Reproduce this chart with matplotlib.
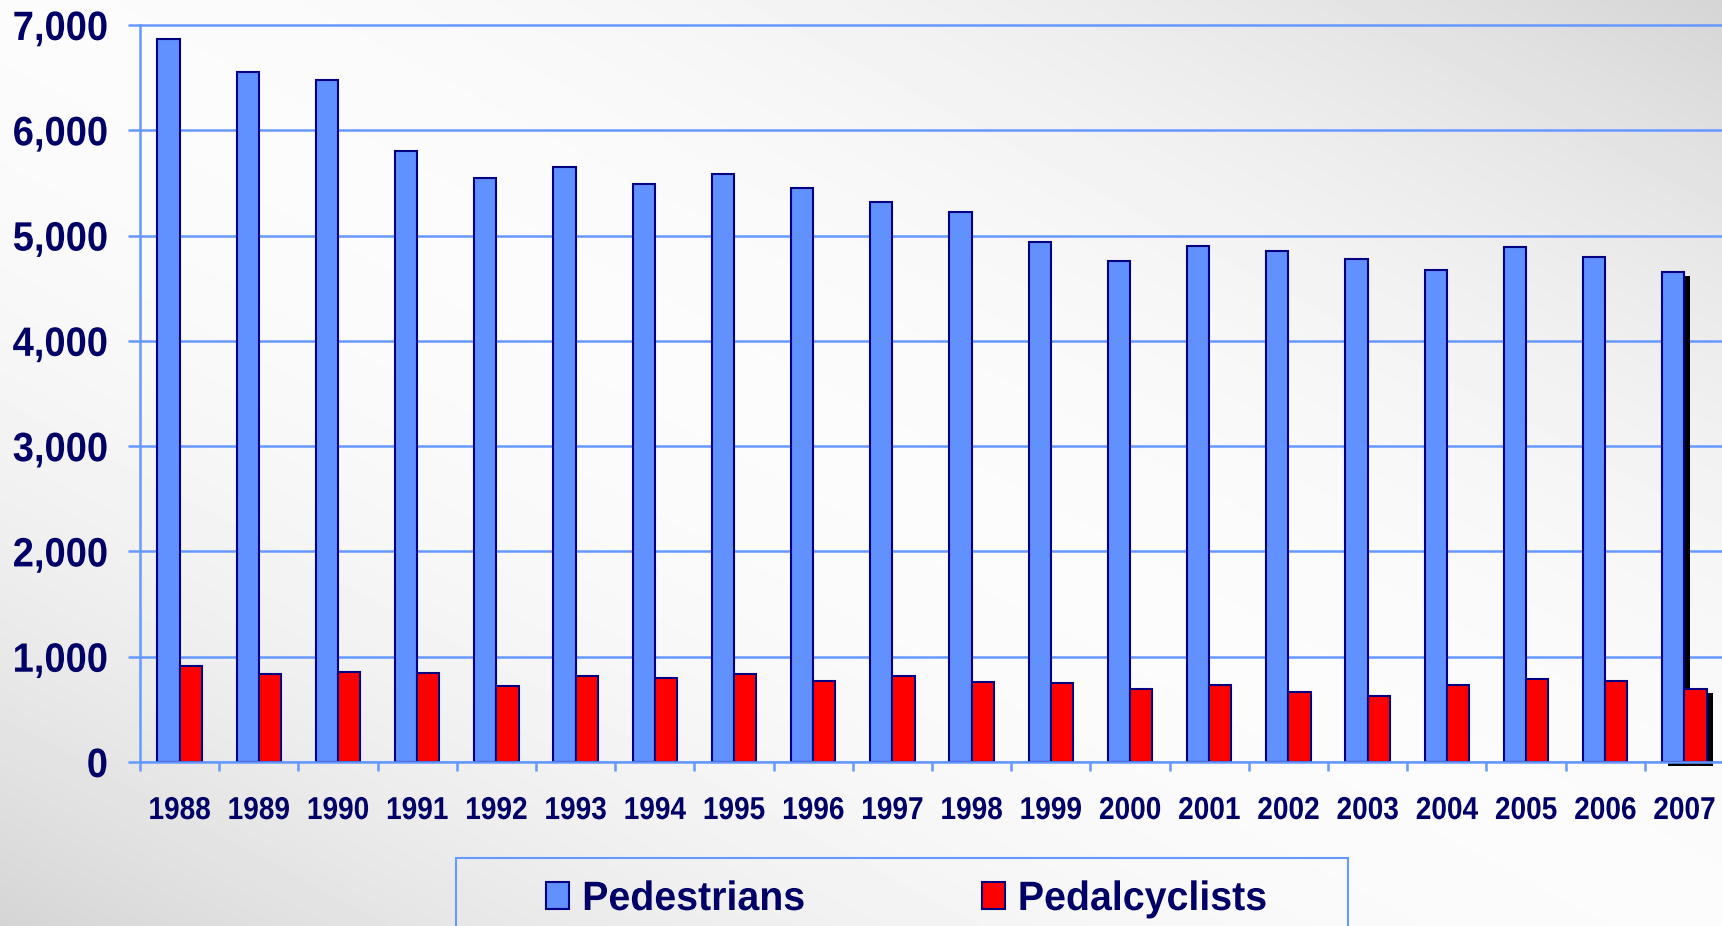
import matplotlib.pyplot as plt
import numpy as np
from matplotlib import patheffects
from matplotlib.patches import Rectangle, Patch
from matplotlib.transforms import Affine2D

years = ['1988', '1989', '1990', '1991', '1992', '1993', '1994', '1995', '1996', '1997',
         '1998', '1999', '2000', '2001', '2002', '2003', '2004', '2005', '2006', '2007']
pedestrians = [6870, 6556, 6482, 5801, 5549, 5649, 5489, 5584, 5449, 5321,
               5228, 4939, 4763, 4901, 4851, 4774, 4675, 4892, 4795, 4654]
cyclists = [911, 832, 859, 843, 723, 816, 802, 833, 765, 814,
            760, 754, 693, 732, 665, 629, 727, 786, 772, 698]

plt.rcParams['font.family'] = 'Liberation Sans'
plt.rcParams['font.weight'] = 'bold'

navy = '#000066'
grid_blue = '#6699FF'
ped_col = '#6190FF'
cyc_col = '#FF0000'
edge = '#000080'


# the labels in the original are a bit condensed, squeeze glyphs horizontally
class Squeeze(patheffects.AbstractPathEffect):
    def __init__(self, sx, anchor='center'):
        super().__init__()
        self.sx = sx
        self.anchor = anchor

    def draw_path(self, renderer, gc, tpath, affine, rgbFace=None):
        ext = tpath.get_extents(affine)
        if self.anchor == 'right':
            x0 = ext.x1
        elif self.anchor == 'left':
            x0 = ext.x0
        else:
            x0 = (ext.x0 + ext.x1) / 2
        aff = affine + Affine2D().translate(-x0, 0).scale(self.sx, 1).translate(x0, 0)
        renderer.draw_path(gc, tpath, aff, rgbFace)


W, H = 1722, 926
fig = plt.figure(figsize=(W / 100, H / 100), dpi=100)

# gradient background
bg = fig.add_axes([0, 0, 1, 1], zorder=0)
bg.axis('off')
uu, vv = np.meshgrid(np.linspace(0, 1, 400), np.linspace(0, 1, 220))
g = 0.985 - 0.15 * np.abs(uu - vv) ** 2
bg.imshow(g, cmap='gray', vmin=0, vmax=1, aspect='auto', interpolation='bilinear')

ax = fig.add_axes([140 / W, 1 - 762 / H, 1584 / W, (762 - 19.7) / H], zorder=1)
ax.set_facecolor('none')

x = np.arange(len(years))
b1 = ax.bar(x - 0.14, pedestrians, 0.28, color=ped_col, edgecolor=edge, lw=1.5)
b2 = ax.bar(x + 0.14, cyclists, 0.28, color=cyc_col, edgecolor=edge, lw=1.5)

# the odd drop shadow on the last pair
for b in (b1[-1], b2[-1]):
    b.set_path_effects([patheffects.SimplePatchShadow(offset=(4.3, -2.9), shadow_rgbFace='black', alpha=1.0),
                        patheffects.Normal()])
    b.set_clip_on(False)

ax.set_xlim(-0.5, len(years) - 0.5)
ax.set_ylim(0, 7050)
yt = list(range(0, 7001, 1000))
ax.set_yticks(yt, [f'{v:,}' for v in yt])
ax.yaxis.grid(True, color=grid_blue, lw=1.8)
ax.set_axisbelow(True)
ax.tick_params(axis='y', length=8.6, width=1.8, color=grid_blue, pad=14.4,
               labelsize=29.5, labelcolor=navy)
for lab in ax.get_yticklabels():
    lab.set_path_effects([Squeeze(0.93, 'right')])

ax.set_xticks(x, years)
ax.set_xticks(np.arange(-0.5, len(years), 1), minor=True)
ax.tick_params(axis='x', which='major', length=0, pad=24.5, labelsize=22.8, labelcolor=navy)
ax.tick_params(axis='x', which='minor', length=6.5, width=1.8, color=grid_blue)
for lab in ax.get_xticklabels():
    lab.set_path_effects([Squeeze(0.885)])

for s in ['top', 'right']:
    ax.spines[s].set_visible(False)
for s in ['left', 'bottom']:
    ax.spines[s].set_color(grid_blue)
    ax.spines[s].set_linewidth(1.8)
ax.spines['left'].set_bounds(0, 7000)

handles = [Patch(facecolor=ped_col, edgecolor=edge, lw=1.5, label='Pedestrians'),
           Patch(facecolor=cyc_col, edgecolor=edge, lw=1.5, label='Pedalcyclists')]
leg = fig.legend(handles=handles, loc='center left', bbox_to_anchor=(546 / W, 1 - 899 / H),
                 ncol=2, frameon=False, fontsize=29.5, handlelength=0.56, handleheight=0.63,
                 handletextpad=0.32, columnspacing=4.1, borderpad=0, borderaxespad=0)
for t in leg.get_texts():
    t.set_color(navy)
    t.set_path_effects([Squeeze(0.96, 'left')])

fig.add_artist(Rectangle((456 / W, -0.1), 892 / W, 0.1 + 1 - 858 / H, transform=fig.transFigure,
                         fill=False, edgecolor=grid_blue, lw=1.5, clip_on=False))

fig.savefig('out.png', dpi=100)
